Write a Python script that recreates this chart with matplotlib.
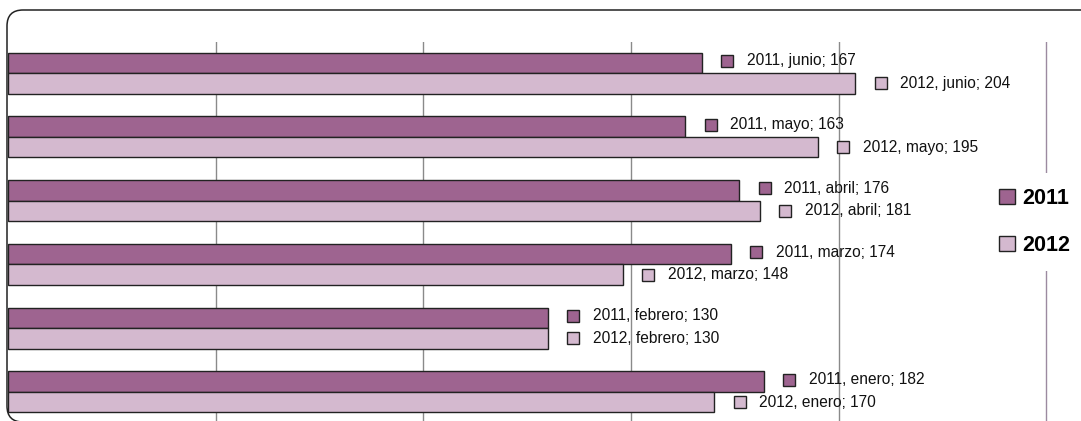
import matplotlib
matplotlib.use("Agg")
import matplotlib.pyplot as plt
from matplotlib.patches import FancyBboxPatch, Patch
from matplotlib.transforms import offset_copy, IdentityTransform

# datos: visitas por mes, 2011 vs 2012
meses = ["enero", "febrero", "marzo", "abril", "mayo", "junio"]
v2011 = [182, 130, 174, 176, 163, 167]
v2012 = [170, 130, 148, 181, 195, 204]

c2011 = "#9e6490"
c2012 = "#d4b9cf"

W, H = 1081, 421
fig = plt.figure(figsize=(W / 100, H / 100), dpi=100)
plt.rcParams['font.family'] = ['Liberation Sans', 'DejaVu Sans']

# marco redondeado de fondo (en pixeles)
marco = FancyBboxPatch((7, H - 422), 1200, 422 - 10,
                       boxstyle="round,pad=0,rounding_size=16",
                       transform=IdentityTransform(), facecolor="white",
                       edgecolor="#222222", linewidth=1.1, zorder=-5)
fig.patches.append(marco)

escala = 4.1538  # px por unidad
xmax = 252
ax = fig.add_axes([8 / W, 0, xmax * escala / W, 379 / H])
ax.set_facecolor("none")
ax.set_xlim(0, xmax)
ax.set_ylim(-0.456, 5.487)

h = 0.322
y = list(range(len(meses)))
y1 = [i + h / 2 for i in y]
y2 = [i - h / 2 for i in y]
ax.barh(y1, v2011, height=h, color=c2011, edgecolor="#222222", linewidth=1, zorder=2)
ax.barh(y2, v2012, height=h, color=c2012, edgecolor="#222222", linewidth=1, zorder=2)

for x in [50, 100, 150, 200, 250]:
    col = "#8a8a8a" if x < 250 else "#9c8aa0"
    ax.axvline(x, color=col, linewidth=1, zorder=1)

for k in range(len(meses)):
    for val, yy, col, anio, dy in [(v2011[k], y1[k], c2011, "2011", 2),
                                   (v2012[k], y2[k], c2012, "2012", 0)]:
        tr_m = offset_copy(ax.transData, fig=fig, x=25.5, y=dy, units='dots')
        ax.plot([val], [yy], marker='s', markersize=8, markerfacecolor=col,
                markeredgecolor="#222222", markeredgewidth=1, transform=tr_m,
                clip_on=False, zorder=3)
        tr_t = offset_copy(ax.transData, fig=fig, x=45, y=dy, units='dots')
        ax.text(val, yy, f"{anio}, {meses[k]}; {val}", transform=tr_t,
                ha="left", va="center", fontsize=11.2, color="#111111", zorder=3)

ax.set_xticks([])
ax.set_yticks([])
for s in ax.spines.values():
    s.set_visible(False)

handles = [Patch(facecolor=c2011, edgecolor="#222222", label="2011"),
           Patch(facecolor=c2012, edgecolor="#222222", label="2012")]
leg = fig.legend(handles=handles, loc="center left",
                 bbox_to_anchor=(973 / W, 1 - 222 / H), frameon=True,
                 facecolor="white", edgecolor="none", framealpha=1,
                 handlelength=0.75, handleheight=0.75, handletextpad=0.35,
                 labelspacing=1.2, borderpad=0.7,
                 prop={'weight': 'bold', 'size': 15.5})

fig.savefig("out.png", dpi=100)
